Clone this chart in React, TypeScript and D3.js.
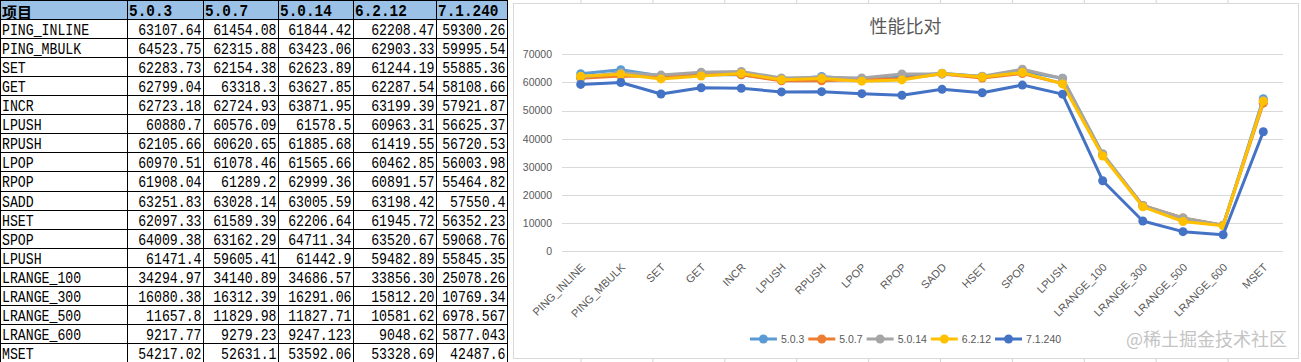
import React, { useEffect, useRef } from 'react';
import * as d3 from 'd3';

const ITEMS = [
  'PING_INLINE', 'PING_MBULK', 'SET', 'GET', 'INCR', 'LPUSH', 'RPUSH', 'LPOP', 'RPOP',
  'SADD', 'HSET', 'SPOP', 'LPUSH', 'LRANGE_100', 'LRANGE_300', 'LRANGE_500', 'LRANGE_600', 'MSET',
];
const VERSIONS = ['5.0.3', '5.0.7', '5.0.14', '6.2.12', '7.1.240'];

// cell texts as shown in the sheet
const V_503 = ['63107.64', '64523.75', '62283.73', '62799.04', '62723.18', '60880.7', '62105.66', '60970.51', '61908.04', '63251.83', '62097.33', '64009.38', '61471.4', '34294.97', '16080.38', '11657.8', '9217.77', '54217.02'];
const V_507 = ['61454.08', '62315.88', '62154.38', '63318.3', '62724.93', '60576.09', '60620.65', '61078.46', '61289.2', '63028.14', '61589.39', '63162.29', '59605.41', '34140.89', '16312.39', '11829.98', '9279.23', '52631.1'];
const V_5014 = ['61844.42', '63423.06', '62623.89', '63627.85', '63871.95', '61578.5', '61885.68', '61565.66', '62999.36', '63005.59', '62206.64', '64711.34', '61442.9', '34686.57', '16291.06', '11827.71', '9247.123', '53592.06'];
const V_6212 = ['62208.47', '62903.33', '61244.19', '62287.54', '63199.39', '60963.31', '61419.55', '60462.85', '60891.57', '63198.42', '61945.72', '63520.67', '59482.89', '33856.30', '15812.20', '10581.62', '9048.62', '53328.69'];
const V_71240 = ['59300.26', '59995.54', '55885.36', '58108.66', '57921.87', '56625.37', '56720.53', '56003.98', '55464.82', '57550.4', '56352.23', '59068.76', '55845.35', '25078.26', '10769.34', '6978.567', '5877.043', '42487.6'];

const SERIES = [V_503, V_507, V_5014, V_6212, V_71240];
const COLORS = ['#5B9BD5', '#ED7D31', '#A5A5A5', '#FFC000', '#4472C4'];
const Y_TICKS = [0, 10000, 20000, 30000, 40000, 50000, 60000, 70000];

const TITLE = '性能比对';
const HEAD = '项目';
const WATERMARK = '@稀土掘金技术社区';

const App: React.FC = () => {
  const svgRef = useRef<SVGSVGElement>(null);

  useEffect(() => {
    document.body.style.margin = '0';
    if (!svgRef.current) return;
    const svg = d3.select(svgRef.current);
    svg.selectAll('*').remove();

    const W = 1301;
    const H = 362;
    svg.attr('width', W).attr('height', H).attr('viewBox', `0 0 ${W} ${H}`);

    // ---- sheet table ----
    const colX = [0, 127, 203, 278, 353, 436, 507];
    const rowH = H / 19;
    const table = svg.append('g');

    table.append('rect')
      .attr('x', 0).attr('y', 0)
      .attr('width', colX[6]).attr('height', rowH)
      .attr('fill', '#9BC2E6');

    // header texts
    table.append('text')
      .attr('x', 2).attr('y', 17.5)
      .attr('font-family', '"Noto Sans CJK SC"')
      .attr('font-weight', 'bold')
      .attr('font-size', 15)
      .text(HEAD);

    VERSIONS.forEach((v, j) => {
      table.append('g')
        .attr('transform', `translate(${colX[j + 1] + 2},${15.5}) scale(0.9,1)`)
        .append('text')
        .attr('font-family', '"Liberation Mono"')
        .attr('font-weight', 'bold')
        .attr('font-size', 16)
        .text(v);
    });

    ITEMS.forEach((name, i) => {
      const base = (i + 1) * rowH + 16;
      table.append('g')
        .attr('transform', `translate(2,${base}) scale(0.825,1)`)
        .append('text')
        .attr('font-family', '"Liberation Mono"')
        .attr('font-size', 16)
        .text(name);
      SERIES.forEach((s, j) => {
        table.append('g')
          .attr('transform', `translate(${colX[j + 2] - 1.5},${base}) scale(0.825,1)`)
          .append('text')
          .attr('font-family', '"Liberation Mono"')
          .attr('font-size', 16)
          .attr('text-anchor', 'end')
          .text(s[i]);
      });
    });

    // grid lines
    d3.range(20).forEach(i => {
      const yy = Math.round(i * rowH) + 0.5;
      table.append('line')
        .attr('x1', 0).attr('x2', colX[6] + 0.5)
        .attr('y1', yy).attr('y2', yy)
        .attr('stroke', '#000').attr('stroke-width', 1);
    });
    colX.forEach(cx => {
      table.append('line')
        .attr('x1', cx + 0.5).attr('x2', cx + 0.5)
        .attr('y1', 0).attr('y2', H)
        .attr('stroke', '#000').attr('stroke-width', 1);
    });

    // ---- sheet gridlines peeking out around chart ----
    const sheetCols = d3.range(10).map(k => 581 + k * 71.9);
    sheetCols.forEach(cx => {
      svg.append('line')
        .attr('x1', cx).attr('x2', cx).attr('y1', 0).attr('y2', 3)
        .attr('stroke', '#d4d4d4');
      svg.append('line')
        .attr('x1', cx).attr('x2', cx).attr('y1', 358).attr('y2', H)
        .attr('stroke', '#d4d4d4');
    });

    // ---- chart ----
    const chart = svg.append('g');
    chart.append('rect')
      .attr('x', 513.5).attr('y', 3.5)
      .attr('width', 785).attr('height', 355)
      .attr('fill', '#fff')
      .attr('stroke', '#d9d9d9');

    chart.append('text')
      .attr('x', 905.5).attr('y', 33)
      .attr('text-anchor', 'middle')
      .attr('font-family', '"Noto Sans CJK SC"')
      .attr('font-size', 18)
      .attr('fill', '#595959')
      .text(TITLE);

    const x = d3.scalePoint<number>()
      .domain(d3.range(ITEMS.length))
      .range([580.7, 1263.3]);
    const y = d3.scaleLinear()
      .domain([0, 70000])
      .range([251.3, 54.3]);

    Y_TICKS.forEach(t => {
      const yy = Math.round(y(t)) + 0.5;
      chart.append('line')
        .attr('x1', 562).attr('x2', 1283)
        .attr('y1', yy).attr('y2', yy)
        .attr('stroke', '#d9d9d9').attr('stroke-width', 1);
      chart.append('text')
        .attr('x', 552).attr('y', y(t) + 3.8)
        .attr('text-anchor', 'end')
        .attr('font-family', '"Liberation Sans"')
        .attr('font-size', 10.5)
        .attr('fill', '#595959')
        .text(String(t));
    });

    ITEMS.forEach((name, i) => {
      const px = x(i) as number;
      chart.append('text')
        .attr('transform', `translate(${px + 5},${268}) rotate(-45)`)
        .attr('text-anchor', 'end')
        .attr('font-family', '"Liberation Sans"')
        .attr('font-size', 11)
        .attr('fill', '#595959')
        .text(name);
    });

    const line = d3.line<number>()
      .x((_, i) => x(i) as number)
      .y(d => y(d));

    SERIES.forEach((s, j) => {
      const vals = s.map(Number);
      const g = chart.append('g');
      g.append('path')
        .attr('d', line(vals) as string)
        .attr('fill', 'none')
        .attr('stroke', COLORS[j])
        .attr('stroke-width', 3)
        .attr('stroke-linejoin', 'round');
      g.selectAll('circle')
        .data(vals)
        .enter()
        .append('circle')
        .attr('cx', (_, i) => x(i) as number)
        .attr('cy', d => y(d))
        .attr('r', 4.5)
        .attr('fill', COLORS[j]);
    });

    // legend
    const legend = chart.append('g');
    let lx = 0;
    VERSIONS.forEach((v, j) => {
      const item = legend.append('g').attr('transform', `translate(${lx},0)`);
      item.append('line')
        .attr('x1', 0).attr('x2', 27).attr('y1', 0).attr('y2', 0)
        .attr('stroke', COLORS[j]).attr('stroke-width', 3);
      item.append('circle')
        .attr('cx', 13.5).attr('cy', 0).attr('r', 4.5)
        .attr('fill', COLORS[j]);
      const t = item.append('text')
        .attr('x', 31).attr('y', 3.8)
        .attr('font-family', '"Liberation Sans"')
        .attr('font-size', 10.5)
        .attr('fill', '#595959')
        .text(v);
      const tw = (t.node() as SVGTextElement).getComputedTextLength();
      lx += 31 + tw + 4;
    });
    const legendW = lx - 4;
    legend.attr('transform', `translate(${905.5 - legendW / 2},339)`);

    chart.append('text')
      .attr('x', 1287).attr('y', 346)
      .attr('text-anchor', 'end')
      .attr('font-family', '"Noto Sans CJK SC"')
      .attr('font-size', 18)
      .attr('fill', '#c4c4c4')
      .text(WATERMARK);
  }, []);

  return <svg ref={svgRef} style={{ display: 'block' }}></svg>;
};

export default App;
